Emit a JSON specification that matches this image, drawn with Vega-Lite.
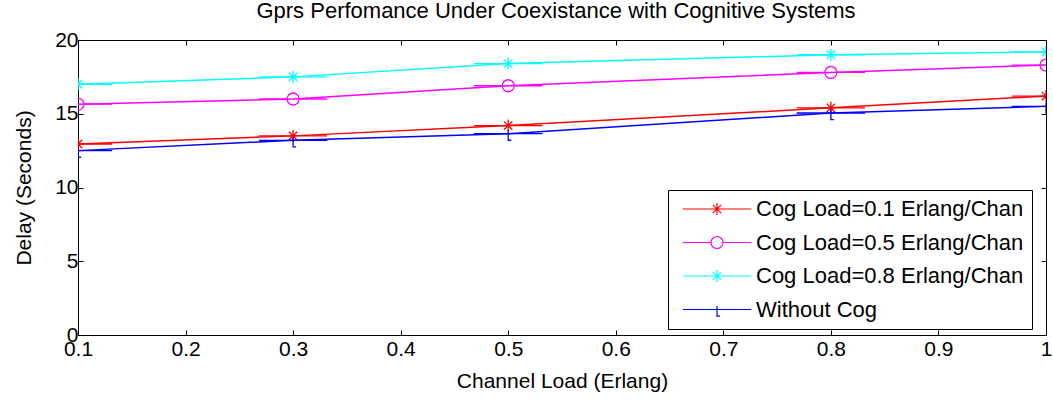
{
  "$schema": "https://vega.github.io/schema/vega-lite/v6.json",
  "width": 968,
  "height": 295,
  "autosize": "none",
  "padding": {"left": 78, "top": 40, "right": 7, "bottom": 65},
  "background": "white",
  "config": {
    "font": "Liberation Sans",
    "view": {"stroke": "black", "strokeWidth": 1},
    "axis": {
      "domainColor": "black", "tickColor": "black", "labelColor": "black", "titleColor": "black",
      "labelFont": "Liberation Sans", "titleFont": "Liberation Sans",
      "labelFontSize": 21, "titleFontSize": 21, "titleFontWeight": "normal",
      "grid": false, "tickSize": -5, "labelFlush": false
    }
  },
  "title": {"text": "Gprs Perfomance Under Coexistance with Cognitive Systems", "fontSize": 22, "fontWeight": "normal", "font": "Liberation Sans", "color": "black", "offset": 6, "dx": -6},
  "data": {"values": [
    {"load": 0.1, "delay": 12.95, "series": "Cog Load=0.1 Erlang/Chan"},
    {"load": 0.3, "delay": 13.5, "series": "Cog Load=0.1 Erlang/Chan"},
    {"load": 0.5, "delay": 14.2, "series": "Cog Load=0.1 Erlang/Chan"},
    {"load": 0.8, "delay": 15.4, "series": "Cog Load=0.1 Erlang/Chan"},
    {"load": 1.0, "delay": 16.2, "series": "Cog Load=0.1 Erlang/Chan"},
    {"load": 0.1, "delay": 15.65, "series": "Cog Load=0.5 Erlang/Chan"},
    {"load": 0.3, "delay": 16.0, "series": "Cog Load=0.5 Erlang/Chan"},
    {"load": 0.5, "delay": 16.9, "series": "Cog Load=0.5 Erlang/Chan"},
    {"load": 0.8, "delay": 17.8, "series": "Cog Load=0.5 Erlang/Chan"},
    {"load": 1.0, "delay": 18.3, "series": "Cog Load=0.5 Erlang/Chan"},
    {"load": 0.1, "delay": 17.0, "series": "Cog Load=0.8 Erlang/Chan"},
    {"load": 0.3, "delay": 17.5, "series": "Cog Load=0.8 Erlang/Chan"},
    {"load": 0.5, "delay": 18.4, "series": "Cog Load=0.8 Erlang/Chan"},
    {"load": 0.8, "delay": 19.0, "series": "Cog Load=0.8 Erlang/Chan"},
    {"load": 1.0, "delay": 19.2, "series": "Cog Load=0.8 Erlang/Chan"},
    {"load": 0.1, "delay": 12.5, "series": "Without Cog"},
    {"load": 0.3, "delay": 13.2, "series": "Without Cog"},
    {"load": 0.5, "delay": 13.65, "series": "Without Cog"},
    {"load": 0.8, "delay": 15.05, "series": "Without Cog"},
    {"load": 1.0, "delay": 15.5, "series": "Without Cog"}
  ]},
  "layer": [
    {
      "mark": {"type": "line", "strokeWidth": 1.5},
      "encoding": {
        "x": {"field": "load", "type": "quantitative", "scale": {"domain": [0.1, 1], "nice": false, "zero": false},
              "axis": {"values": [0.1,0.2,0.3,0.4,0.5,0.6,0.7,0.8,0.9,1.0], "format": ".1~f", "title": "Channel Load (Erlang)", "labelPadding": 8, "titlePadding": 11, "labelFontSize": 21, "titleFontSize": 21, "labelFlush": false}},
        "y": {"field": "delay", "type": "quantitative", "scale": {"domain": [0, 20], "nice": false},
              "axis": {"values": [0,5,10,15,20], "title": "Delay (Seconds)", "labelPadding": 5, "titlePadding": 20, "labelFontSize": 21, "titleFontSize": 21, "labelFlush": false}},
        "color": {"field": "series", "type": "nominal",
                  "scale": {"domain": ["Cog Load=0.1 Erlang/Chan","Cog Load=0.5 Erlang/Chan","Cog Load=0.8 Erlang/Chan","Without Cog"], "range": ["#ff0000","#ff00ff","#00ffff","#0000ff"]},
                  "legend": {"title": null, "orient": "none", "legendX": 590, "legendY": 150, "strokeColor": "black", "fillColor": "white", "padding": 8,
                             "labelFontSize": 22, "labelFont": "Liberation Sans", "labelColor": "black", "labelOffset": 28, "symbolOffset": 30, "rowPadding": 11.5, "symbolSize": 144, "symbolStrokeWidth": 1.2,
                             "labelLimit": 400}},
        "detail": {"field": "series"}
      }
    },
    {
      "mark": {"type": "point", "filled": false, "strokeWidth": 1.3, "size": 144, "opacity": 1, "clip": true},
      "encoding": {
        "x": {"field": "load", "type": "quantitative", "axis": {"orient": "top", "values": [0.1,0.2,0.3,0.4,0.5,0.6,0.7,0.8,0.9,1.0], "labels": false, "title": null, "domain": false}},
        "y": {"field": "delay", "type": "quantitative", "axis": {"orient": "right", "values": [0,5,10,15,20], "labels": false, "title": null, "domain": false}},
        "color": {"field": "series", "type": "nominal",
                  "legend": {"title": null, "orient": "none", "legendX": 590, "legendY": 150, "strokeColor": "black", "fillColor": "white", "padding": 8,
                             "labelFontSize": 22, "labelFont": "Liberation Sans", "labelColor": "black", "labelOffset": 28, "symbolOffset": 30, "rowPadding": 11.5, "symbolSize": 144, "symbolStrokeWidth": 1.2,
                             "labelLimit": 400}},
        "shape": {"field": "series", "type": "nominal",
                  "scale": {"domain": ["Cog Load=0.1 Erlang/Chan","Cog Load=0.5 Erlang/Chan","Cog Load=0.8 Erlang/Chan","Without Cog"],
                            "range": ["M-5.7,0L5.7,0M0,-1L0,1M-0.7,-0.7L0.7,0.7M-0.7,0.7L0.7,-0.7", "M-5.7,0L-1,0M1,0L5.7,0M-1,0A1,1,0,1,1,1,0A1,1,0,1,1,-1,0", "M-5.7,0L5.7,0M0,-1L0,1M-0.7,-0.7L0.7,0.7M-0.7,0.7L0.7,-0.7", "M-5.7,0L5.7,0M0,-0.6L0,1.1L0.5,1.1"]},
                  "legend": {"title": null, "orient": "none", "legendX": 590, "legendY": 150, "strokeColor": "black", "fillColor": "white", "padding": 8,
                             "labelFontSize": 22, "labelFont": "Liberation Sans", "labelColor": "black", "labelOffset": 28, "symbolOffset": 30, "rowPadding": 11.5, "symbolSize": 144, "symbolStrokeWidth": 1.2,
                             "labelLimit": 400}
        }
      }
    }
  ],
  "resolve": {"axis": {"x": "independent", "y": "independent"}}
}
